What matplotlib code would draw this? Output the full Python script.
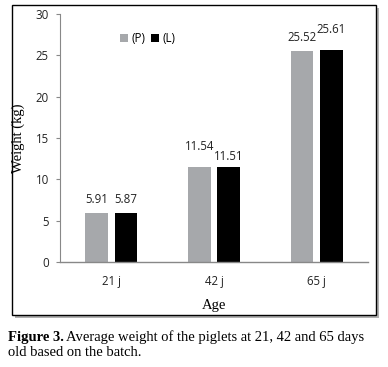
import matplotlib
matplotlib.use("Agg")
import matplotlib.pyplot as plt
import matplotlib.patches as patches
import numpy as np

ages = ["21 j", "42 j", "65 j"]
weight_p = [5.91, 11.54, 25.52]
weight_l = [5.87, 11.51, 25.61]
series_names = ["(P)", "(L)"]
yticks = [0, 5, 10, 15, 20, 25, 30]

W, H = 388, 367
fig = plt.figure(figsize=(W / 100, H / 100), dpi=100)

# framed chart area with a soft shadow
fig.patches.append(patches.Rectangle((15 / W, 1 - 318 / H), 364 / W, 310 / H,
                                     transform=fig.transFigure, facecolor="#b0b0b0",
                                     edgecolor="none", zorder=0))
fig.patches.append(patches.Rectangle((12 / W, 1 - 315 / H), 364 / W, 310 / H,
                                     transform=fig.transFigure, facecolor="white",
                                     edgecolor="black", linewidth=1.0, zorder=1))

ax = fig.add_axes([60 / W, 1 - 262 / H, 308 / W, 248 / H])
ax.set_zorder(2)
ax.patch.set_alpha(0)

x = np.arange(len(ages))
w = 0.22
off = 0.142
ax.bar(x - off, weight_p, width=w, color="#a6a8ab", label=series_names[0])
ax.bar(x + off, weight_l, width=w, color="black", label=series_names[1])

sans = "Open Sans"
fs = 8.3
for i in range(len(ages)):
    yp, yl = weight_p[i], weight_l[i]
    dp, dl = 0.9, 0.9
    if i == 1:
        dp, dl = 1.7, 0.5
    if i == 2:
        dp, dl = 0.9, 1.7
    ax.text(x[i] - off, yp + dp, f"{yp:.2f}", ha="center", va="bottom",
            fontsize=fs, family=sans, color="#222222")
    ax.text(x[i] + off, yl + dl, f"{yl:.2f}", ha="center", va="bottom",
            fontsize=fs, family=sans, color="#222222")

ax.set_xlim(-0.5, len(ages) - 0.5)
ax.set_ylim(0, 30)
ax.set_yticks(yticks)
ax.set_xticks(x)
ax.set_xticklabels(ages)
for lab in ax.get_xticklabels() + ax.get_yticklabels():
    lab.set_family(sans)
    lab.set_fontsize(fs)
    lab.set_color("#222222")
ax.tick_params(axis="x", length=0, pad=9)
ax.tick_params(axis="y", length=3, color="#888888", pad=5)
for s in ["top", "right"]:
    ax.spines[s].set_visible(False)
ax.spines["left"].set_color("#888888")
ax.spines["bottom"].set_color("#888888")
ax.spines["left"].set_linewidth(0.8)
ax.spines["bottom"].set_linewidth(1.0)

ax.set_xlabel("Age", family="Liberation Serif", fontsize=10.5)
ax.set_ylabel("Weight (kg)", family="Liberation Serif", fontsize=10.5)
ax.xaxis.set_label_coords(0.5, (262 - 305) / 248)
ax.yaxis.set_label_coords((18 - 60) / 308, 0.5)
ax.xaxis.label.set_va("center")
ax.yaxis.label.set_va("center")

ax.legend(loc="upper left", bbox_to_anchor=(0.16, 0.97), ncol=2, frameon=False,
          handlelength=0.7, handleheight=0.7, handletextpad=0.3, columnspacing=0.5,
          prop={"family": sans, "size": fs})

fig.text(8 / W, 1 - 337 / H, "Figure 3.", family="Liberation Serif", fontweight="bold",
         fontsize=10.5, va="center")
fig.text(66 / W, 1 - 337 / H, "Average weight of the piglets at 21, 42 and 65 days",
         family="Liberation Serif", fontsize=10.5, va="center")
fig.text(8 / W, 1 - 353 / H, "old based on the batch.",
         family="Liberation Serif", fontsize=10.5, va="center")

fig.savefig("out.png", dpi=100)
